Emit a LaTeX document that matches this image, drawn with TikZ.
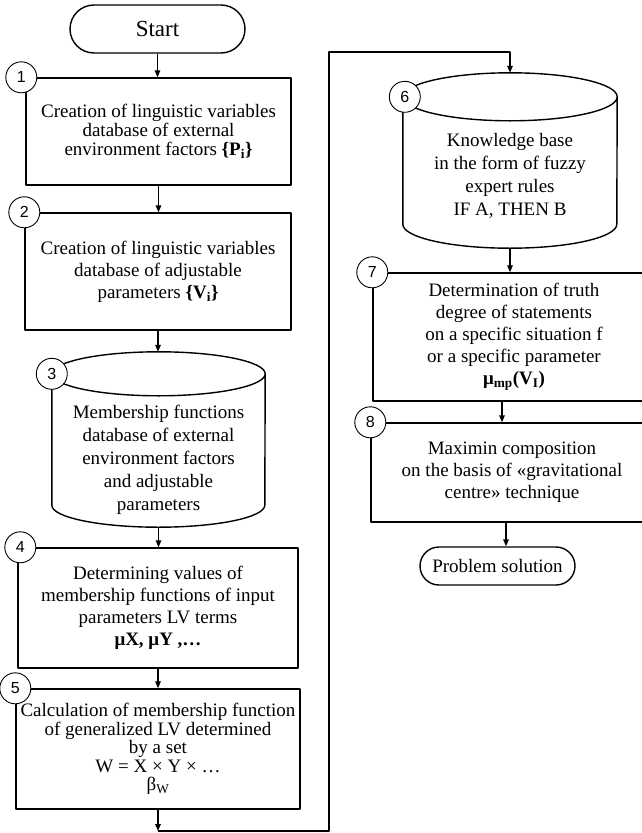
\documentclass[tikz,border=0pt]{standalone}
\usepackage{fontspec}
\setmainfont{Liberation Serif}
\newfontfamily\numfont{Liberation Sans}
\usetikzlibrary{arrows.meta}

\begin{document}
\begin{tikzpicture}[x=1pt, y=1pt, line join=round,
  box/.style={draw, line width=1.4pt, align=center, inner sep=0pt, font=\fontsize{19}{22}\selectfont},
  dbbox/.style={inner sep=0pt},
  stepnum/.style={draw, circle, fill=white, line width=0.9pt, minimum size=31pt, inner sep=0pt, font=\numfont\fontsize{16}{16}\selectfont},
  arr/.style={line width=1.4pt, -{Triangle[length=7pt,width=5.5pt]}}]
  \useasboundingbox (0,0) rectangle (641,-833);

  % left column
  \node[box, rounded corners=24pt, minimum width=175pt, minimum height=48pt, font=\fontsize{23}{23}\selectfont] (start) at (157.5,-29) {Start};
  \node[box, minimum width=265pt, minimum height=107pt, font=\fontsize{19}{19}\selectfont] (b1) at (158.5,-131.5)
    {Creation of linguistic variables\\database of external\\environment factors \textbf{\{P\textsubscript{i}\}}};
  \node[box, minimum width=266pt, minimum height=117pt] (b2) at (158,-271.5)
    {Creation of linguistic variables\\database of adjustable\\parameters \textbf{\{V\textsubscript{i}\}}};
  \node[dbbox, minimum width=213pt, minimum height=175pt] (db3) at (158.5,-439.5) {};
  \node[box, draw=none, font=\fontsize{19}{23}\selectfont] (db3txt) at (158.5,-460)
    {Membership functions\\database of external\\environment factors\\and adjustable\\parameters};
  \draw[line width=1.4pt] ([yshift=-22pt]db3.north west) -- ([yshift=22pt]db3.south west)
    arc[start angle=180, end angle=360, x radius=106.5pt, y radius=22pt] -- ([yshift=-22pt]db3.north east)
    arc[start angle=0, end angle=360, x radius=106.5pt, y radius=22pt];
  \node[box, minimum width=280pt, minimum height=120pt] (b4) at (158,-608)
    {Determining values of\\membership functions of input\\parameters LV terms\\\textbf{μX, μY ,…}};
  \node[box, minimum width=284pt, minimum height=120pt, font=\fontsize{19}{18.5}\selectfont] (b5) at (158,-749)
    {Calculation of membership function\\of generalized LV determined\\by a set\\W = X × Y × …\\β\textsubscript{W}};
  \coordinate (low) at (158,-831);

  % right column, cut off by the page edge
  \node[dbbox, minimum width=214pt, minimum height=175pt] (db6) at (510,-160.5) {};
  \node[box, draw=none, font=\fontsize{19}{23}\selectfont] (db6txt) at (510,-176)
    {Knowledge base\\in the form of fuzzy\\expert rules\\IF A, THEN B};
  \draw[line width=1.4pt] ([yshift=-24pt]db6.north west) -- ([yshift=24pt]db6.south west)
    arc[start angle=180, end angle=360, x radius=107pt, y radius=24pt] -- ([yshift=-24pt]db6.north east)
    arc[start angle=0, end angle=360, x radius=107pt, y radius=24pt];
  \node[box, minimum width=282pt, minimum height=128pt] (b7) at (514,-337)
    {Determination of truth\\degree of statements\\on a specific situation f\\or a specific parameter\\\textbf{μ\textsubscript{mp}(V\textsubscript{I})}};
  \node[box, minimum width=282pt, minimum height=99pt] (b8) at (512,-472.5)
    {Maximin composition\\on the basis of «gravitational\\centre» technique};
  \node[box, rounded corners=19pt, minimum width=155pt, minimum height=38pt] (ps) at (497.5,-566) {Problem solution};

  \draw[arr] (start.south) -- (start.south |- b1.north);
  \draw[arr] (b1.south) -- (b1.south |- b2.north);
  \draw[arr] (b2.south) -- (b2.south |- db3.north);
  \draw[arr] (db3.south) -- (db3.south |- b4.north);
  \draw[arr] (b4.south) -- (b4.south |- b5.north);
  \draw[arr] (b5.south) -- (low);
  \draw[arr] (low) -- ++(171,0) |- ([yshift=21pt]db6.north) -- (db6.north);
  \draw[arr] (db6.south) -- (db6.south |- b7.north);
  \draw[arr] ([xshift=-12pt]b7.south) -- ([xshift=-12pt]b7.south |- b8.north);
  \draw[arr] ([xshift=-6pt]b8.south) -- ([xshift=-6pt]b8.south |- ps.north);

  % step numbers
  \node[stepnum] (n1) at ([xshift=-4pt]b1.north west) {1};
  \node[stepnum] (n2) at (b2.north west) {2};
  \node[stepnum] (n3) at ([yshift=-22pt]db3.north west) {3};
  \node[stepnum] (n4) at ([xshift=3pt]b4.north west) {4};
  \node[stepnum] (n5) at (b5.north west) {5};
  \node[stepnum] (n6) at ([xshift=2pt,yshift=-24pt]db6.north west) {6};
  \node[stepnum] (n7) at (b7.north west) {7};
  \node[stepnum] (n8) at (b8.north west) {8};
\end{tikzpicture}
\end{document}
